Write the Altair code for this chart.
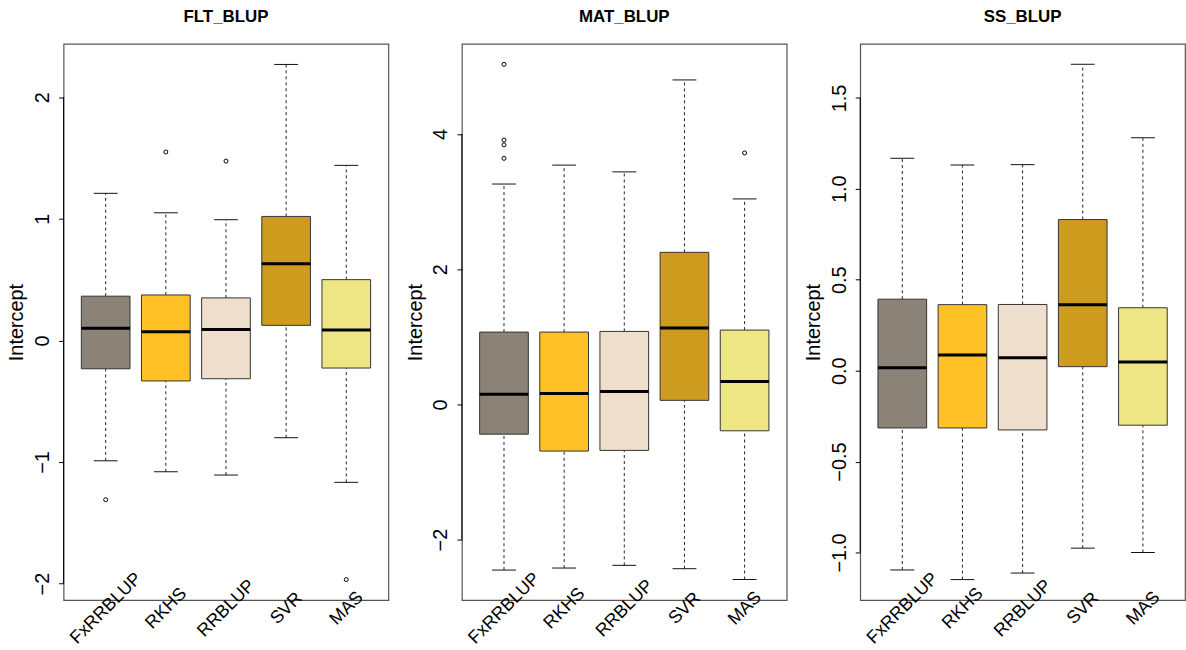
import altair as alt
import pandas as pd

methods = ["FxRRBLUP", "RKHS", "RRBLUP", "SVR", "MAS"]
fill_colors = ["#8B8378", "#FFC125", "#EEDFCC", "#CD9B1D", "#EEE685"]

# FLT_BLUP summary statistics per method
flt_lower = [-0.99, -1.08, -1.107, -0.80, -1.167]
flt_q1 = [-0.233, -0.333, -0.315, 0.124, -0.227]
flt_median = [0.10, 0.072, 0.09, 0.63, 0.086]
flt_q3 = [0.364, 0.374, 0.35, 1.02, 0.50]
flt_upper = [1.21, 1.05, 0.993, 2.27, 1.44]
flt_out_method = ["FxRRBLUP", "RKHS", "RRBLUP", "MAS"]
flt_out_value = [-1.31, 1.55, 1.475, -1.967]

# MAT_BLUP
mat_lower = [-2.45, -2.42, -2.38, -2.43, -2.59]
mat_q1 = [-0.44, -0.69, -0.68, 0.06, -0.39]
mat_median = [0.15, 0.16, 0.19, 1.13, 0.34]
mat_q3 = [1.07, 1.07, 1.08, 2.25, 1.10]
mat_upper = [3.26, 3.54, 3.44, 4.80, 3.04]
mat_out_method = ["FxRRBLUP", "FxRRBLUP", "FxRRBLUP", "FxRRBLUP", "MAS"]
mat_out_value = [5.03, 3.91, 3.84, 3.64, 3.72]

# SS_BLUP
ss_lower = [-1.096, -1.149, -1.113, -0.976, -1.0]
ss_q1 = [-0.315, -0.315, -0.326, 0.022, -0.30]
ss_median = [0.016, 0.086, 0.071, 0.363, 0.048]
ss_q3 = [0.393, 0.363, 0.364, 0.831, 0.346]
ss_upper = [1.168, 1.131, 1.133, 1.685, 1.281]
ss_out_method = []
ss_out_value = []

FONT = "Liberation Sans"
W, H = 327, 560
BOX_W = 49
CAP_W = 24


def panel(title, lower, q1, med, q3, upper, out_m, out_v, domain, ticks, fmt):
    stats = pd.DataFrame({"method": methods, "lower": lower, "q1": q1,
                          "median": med, "q3": q3, "upper": upper})
    outl = pd.DataFrame({"method": out_m, "value": out_v})
    axis_df = pd.DataFrame({"lo": [min(ticks)], "hi": [max(ticks)]})

    x_axis = alt.Axis(labelAngle=-45, labelAlign="center",
                      labelBaseline="middle", labelPadding=8,
                      ticks=False, domain=False, labelFontSize=18,
                      labelFont=FONT, labelColor="black", title=None)
    y_axis = alt.Axis(values=ticks, format=fmt, labelAngle=-90,
                      labelAlign="center", labelBaseline="bottom",
                      labelPadding=6, tickSize=5, tickColor="black",
                      domain=False, grid=False, labelFontSize=20,
                      labelFont=FONT, labelColor="black",
                      title="Intercept", titleFontSize=20,
                      titleFontWeight="normal", titleFont=FONT,
                      titleColor="black", titlePadding=6)
    xscale = alt.Scale(type="point", padding=0.7)
    yscale = alt.Scale(domain=domain, nice=False, zero=False)

    def xm():
        return alt.X("method:N", sort=methods, scale=xscale, axis=x_axis,
                     title=None)

    def yq(field):
        return alt.Y(field, scale=yscale, axis=y_axis, title="Intercept")

    base = alt.Chart(stats)
    upper_whisker = base.mark_rule(strokeDash=[3, 3], color="#222",
                                   strokeWidth=1).encode(
        x=xm(), y=yq("q3:Q"), y2="upper:Q")
    lower_whisker = base.mark_rule(strokeDash=[3, 3], color="#222",
                                   strokeWidth=1).encode(
        x=xm(), y=yq("lower:Q"), y2="q1:Q")
    cap_hi = base.mark_tick(size=CAP_W, thickness=1, color="#111",
                            opacity=1).encode(x=xm(), y=yq("upper:Q"))
    cap_lo = base.mark_tick(size=CAP_W, thickness=1, color="#111",
                            opacity=1).encode(x=xm(), y=yq("lower:Q"))
    box = base.mark_bar(size=BOX_W, stroke="#333", strokeWidth=1,
                        opacity=1).encode(
        x=xm(), y=yq("q1:Q"), y2="q3:Q",
        fill=alt.Fill("method:N", sort=methods, legend=None,
                      scale=alt.Scale(domain=methods, range=fill_colors)))
    median = base.mark_tick(size=BOX_W, thickness=3, color="black",
                            opacity=1).encode(x=xm(), y=yq("median:Q"))
    layers = [upper_whisker, lower_whisker, cap_hi, cap_lo, box, median]
    if len(outl):
        pts = alt.Chart(outl).mark_point(shape="circle", size=16,
                                         filled=False, color="black",
                                         strokeWidth=1, opacity=1).encode(
            x=xm(), y=yq("value:Q"))
        layers.append(pts)
    axis_line = alt.Chart(axis_df).mark_rule(color="black",
                                             strokeWidth=1).encode(
        x=alt.value(0), y=yq("lo:Q"), y2="hi:Q")
    layers.append(axis_line)

    return alt.layer(*layers).properties(
        width=W, height=H,
        title=alt.TitleParams(title, fontSize=17, fontWeight="bold",
                              font=FONT, anchor="middle", offset=18,
                              color="black"))


p1 = panel("FLT_BLUP", flt_lower, flt_q1, flt_median, flt_q3, flt_upper,
           flt_out_method, flt_out_value, [-2.136, 2.439],
           [-2, -1, 0, 1, 2], "d")
p2 = panel("MAT_BLUP", mat_lower, mat_q1, mat_median, mat_q3, mat_upper,
           mat_out_method, mat_out_value, [-2.895, 5.333],
           [-2, 0, 2, 4], "d")
p3 = panel("SS_BLUP", ss_lower, ss_q1, ss_median, ss_q3, ss_upper,
           ss_out_method, ss_out_value, [-1.262, 1.797],
           [-1.0, -0.5, 0.0, 0.5, 1.0, 1.5], ".1f")

chart = alt.hconcat(p1, p2, p3, spacing=74, bounds="flush").properties(
    padding={"left": 6, "top": 5, "right": 0, "bottom": 0},
    background="white",
).configure_view(stroke="#555", strokeWidth=1.2).configure_axisY(
    labelFontSize=20, titleFontSize=20, labelFont=FONT, titleFont=FONT
).configure_axisX(labelFontSize=18, labelFont=FONT)

chart.save("out.html", embed_options={"renderer": "svg", "actions": False})
